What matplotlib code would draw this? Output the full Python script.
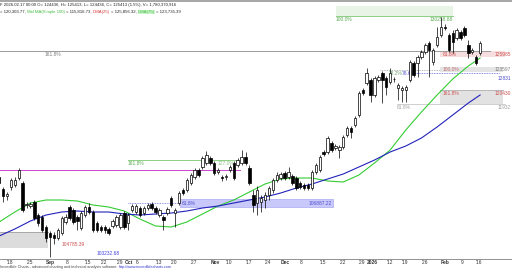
import matplotlib
matplotlib.use("Agg")
import matplotlib.pyplot as plt
from matplotlib.patches import Rectangle
import numpy as np
import pandas as pd

# ---------------- data ----------------
holidays = ["2025-09-15", "2025-09-23", "2025-10-13", "2025-11-03", "2025-11-24",
            "2025-12-31", "2026-01-01", "2026-01-02", "2026-01-12", "2026-02-11"]
dates = [d for d in pd.bdate_range("2025-08-14", "2026-02-17")
         if d.strftime("%Y-%m-%d") not in holidays]

opens = [110147, 108639, 107759, 108890, 109141, 110021, 109393, 106627, 106502, 107005,
         105370, 105119, 103862, 103108, 102856, 102479, 103108, 104491, 106376, 105999,
         105119, 103736, 105370, 106376, 105748, 104365, 103862, 103862, 103611, 103988,
         104113, 103862, 105622, 104365, 105999, 105748, 106250, 105622, 106250, 106753,
         106250, 105370, 105119, 105622, 107507, 105622, 106879, 108513, 108513, 109393,
         110147, 111027, 111404, 111907, 112535, 111907, 110776, 110147, 110147, 111027,
         111907, 111655, 111907, 112661, 111278, 107884, 106879, 107005, 107256, 107884,
         108513, 109770, 110021, 110650, 110147, 110273, 110021, 109393, 109141, 109141,
         108764, 110776, 111027, 113290, 113290, 114421, 113792, 113541, 113918, 115426,
         116306, 116683, 117940, 121083, 121963, 122340, 120454, 122340, 123220, 122591,
         122089, 122466, 121334, 121083, 121083, 122340, 124477, 124477, 125231, 125860,
         126991, 124603, 126739, 127996, 129002, 127996, 128248, 127619, 128374, 128876,
         126739, 125860, 125231, 125734]
highs = [110524, 108890, 108262, 110021, 110147, 111278, 109644, 107005, 107005, 107256,
         105622, 105370, 104113, 103359, 103234, 103736, 105245, 105496, 106627, 106250,
         105370, 105873, 106627, 106879, 105999, 104616, 104113, 104113, 103862, 104868,
         105370, 105622, 105873, 105622, 106753, 106753, 106502, 106502, 106879, 107005,
         106502, 106250, 105370, 106376, 107759, 106250, 108387, 108764, 110021, 110650,
         111278, 111278, 112787, 113415, 112787, 112158, 111278, 110398, 110524, 111655,
         112158, 112535, 113541, 113290, 111655, 108513, 109016, 107884, 108262, 109016,
         110021, 110776, 110776, 110901, 111404, 110524, 110273, 109644, 109393, 109393,
         111027, 111907, 112912, 113541, 115301, 114672, 114295, 114169, 115426, 116558,
         116558, 117815, 120957, 121334, 123848, 122591, 122843, 122968, 123471, 122843,
         123848, 122717, 121963, 121586, 121711, 124854, 124728, 125482, 126111, 126991,
         127242, 126362, 129002, 130259, 129379, 128248, 128625, 128876, 128625, 129128,
         127368, 126362, 125482, 127242]
lows = [109016, 107005, 107256, 108513, 108890, 109770, 105748, 106250, 106250, 104742,
        103988, 103234, 101977, 100091, 101725, 102228, 102856, 104239, 104742, 104239,
        103485, 103485, 105119, 105496, 103234, 103234, 103234, 103108, 102856, 103736,
        103862, 103611, 103611, 103485, 105748, 105496, 105119, 105370, 105999, 105999,
        105496, 105119, 103485, 105370, 106376, 103862, 106627, 107884, 108262, 109141,
        109896, 110147, 111153, 111655, 111655, 110398, 110524, 109644, 109770, 110776,
        109770, 111404, 111655, 111655, 109141, 105748, 105370, 105748, 106250, 107256,
        108136, 109519, 109770, 109770, 109896, 109141, 108513, 108639, 108513, 108513,
        108513, 110524, 110776, 112787, 113038, 113290, 113541, 112535, 113667, 115175,
        115049, 116432, 117689, 120454, 121711, 119575, 120203, 122089, 119449, 120454,
        121837, 122089, 119826, 119575, 119575, 122089, 122717, 122717, 124980, 125608,
        122717, 124225, 126488, 127745, 128625, 125860, 125734, 127368, 127368, 127745,
        125105, 125608, 124225, 125482]
closes = [109393, 107759, 108010, 109770, 109770, 111027, 105999, 106753, 106753, 104993,
          104365, 103485, 102479, 102605, 102479, 103485, 104993, 105119, 104993, 104491,
          104616, 105622, 106376, 105748, 103485, 103485, 103485, 103485, 103108, 104616,
          105119, 105370, 103862, 105370, 106502, 106502, 105370, 106250, 106627, 106250,
          105748, 105999, 104742, 106125, 106627, 105999, 108136, 108136, 109770, 110398,
          111027, 110398, 112535, 112912, 111907, 110650, 111027, 110021, 110273, 111404,
          110021, 112284, 112661, 111907, 109393, 106627, 108513, 107507, 107884, 108764,
          109770, 110398, 110524, 110021, 110776, 109393, 108764, 108890, 108764, 108764,
          110776, 111655, 112661, 113038, 115049, 113541, 114044, 113918, 115175, 116306,
          115804, 117563, 120706, 120706, 123220, 120454, 122591, 122717, 122340, 121460,
          123220, 122500, 121711, 121334, 121460, 124603, 122968, 125231, 125860, 126739,
          126111, 126111, 127745, 129002, 128876, 126111, 127117, 128625, 127619, 127996,
          125734, 126111, 124477, 126991]

ma_dates = ["2025-08-14", "2025-08-20", "2025-08-26", "2025-09-01", "2025-09-05", "2025-09-11",
            "2025-09-18", "2025-09-25", "2025-10-01", "2025-10-07", "2025-10-14", "2025-10-20",
            "2025-10-24", "2025-10-30", "2025-11-06", "2025-11-12", "2025-11-18", "2025-11-25",
            "2025-12-01", "2025-12-05", "2025-12-11", "2025-12-17", "2025-12-23", "2025-12-29",
            "2026-01-07", "2026-01-14", "2026-01-20", "2026-01-26", "2026-01-30", "2026-02-05",
            "2026-02-12", "2026-02-17"]
ma_fast = [104491, 105748, 106879, 107256, 107256, 107130, 106627, 106376, 105873, 104868,
           103988, 103862, 104491, 105496, 106502, 107256, 108262, 109267, 109896, 110021,
           110021, 109644, 109519, 110398, 111907, 113541, 116055, 118318, 120454, 122466,
           124100, 125105]
ma_slow = [102731, 103611, 104616, 105370, 105748, 105873, 105748, 105748, 105496, 105370,
           105496, 105622, 105873, 106250, 106502, 106879, 107256, 107633, 108136, 108764,
           109267, 109896, 110524, 111404, 112284, 113290, 114044, 115049, 116432, 117940,
           119449, 120454]

week_ticks = ["2025-08-18", "2025-08-25", "2025-09-01", "2025-09-08", "2025-09-16", "2025-09-22",
              "2025-09-29", "2025-10-01", "2025-10-06", "2025-10-14", "2025-10-20", "2025-10-27",
              "2025-11-04", "2025-11-10", "2025-11-17", "2025-11-25", "2025-12-01", "2025-12-08",
              "2025-12-15", "2025-12-22", "2025-12-29", "2026-01-05", "2026-01-13", "2026-01-19",
              "2026-01-26", "2026-02-02", "2026-02-09", "2026-02-16"]
week_labels = ["'18", "'25", "Sep", "'8", "'15", "'22", "'29", "Oct", "'6", "'13", "'20", "'27",
               "Nov", "'10", "'17", "'24", "Dec", "'8", "'15", "'22", "'29", "2026", "'12", "'19",
               "'26", "Feb", "'9", "'16"]

# ---------------- figure ----------------
FAM = "Liberation Sans"
plt.rcParams["font.family"] = [FAM, "DejaVu Sans"]
W, H = 512, 270
fig = plt.figure(figsize=(W / 100, H / 100), dpi=100)
fig.patch.set_facecolor("white")
ax = fig.add_axes([0, 11 / H, 1, 257 / H])
XL = (0.21, 131.16)
YL = (99840, 132145)
ax.set_xlim(*XL)
ax.set_ylim(*YL)
for s in ["top", "left", "right"]:
    ax.spines[s].set_visible(False)
ax.spines["bottom"].set_color("#808080")
ax.spines["bottom"].set_linewidth(0.6)
ax.set_yticks([])

def px(xp):
    return XL[0] + (xp / W) * (XL[1] - XL[0])

idx = {d.strftime("%Y-%m-%d"): k for k, d in enumerate(dates)}
x = np.arange(len(dates))
o = np.array(opens); h = np.array(highs); l = np.array(lows); c = np.array(closes)

FS = 3.5
RX = px(511)
# ----- annotation boxes / fib lines (behind candles) -----
fib_top = 130380
ax.add_patch(Rectangle((px(336), fib_top), px(453) - px(336), 1300, facecolor="#e8f5e6",
                       edgecolor="none", zorder=0))
ax.plot([px(336), px(453)], [fib_top, fib_top], color="#8ccf84", lw=0.7, zorder=1)
ax.text(px(336), fib_top - 120, "100.0%", color="#5aaa50", fontsize=FS, va="top", ha="left")
ax.text(px(453), fib_top - 120, "130258.88", color="#5aaa50", fontsize=FS, va="top", ha="right")

lvl_grey = 125985
ax.plot([px(0), px(490)], [lvl_grey, lvl_grey], color="#9a9a9a", lw=0.7, zorder=1)
ax.text(px(45), lvl_grey - 80, "161.8%", color="#808080", fontsize=FS, va="top")

ax.add_patch(Rectangle((px(440), 125231), px(505) - px(440), lvl_grey - 125231,
                       facecolor="#f6dede", edgecolor="none", zorder=0))
ax.text(px(443), lvl_grey - 80, "61.8%", color="#d05050", fontsize=FS, va="top")
ax.text(RX, lvl_grey - 80, "125985", color="#d05050", fontsize=FS, va="top", ha="right")

ax.add_patch(Rectangle((px(440), 123346), px(503) - px(440), 123974 - 123346,
                       facecolor="#e4e4e4", edgecolor="none", zorder=0))
ax.plot([px(380), px(440)], [123597, 123597], color="#a0a0a0", lw=0.6, ls=(0, (1, 1)), zorder=1)
ax.text(px(443), 123950, "100.0%", color="#c07070", fontsize=FS, va="top")
ax.text(RX, 123950, "123597", color="#808080", fontsize=FS, va="top", ha="right")
ax.plot([px(410), px(500)], [123220, 123220], color="#6666dd", lw=0.6, ls=(0, (1, 1)), zorder=1)
ax.text(px(389), 123220, "38.2%", color="#70a070", fontsize=FS, va="center")
ax.text(px(402), 123220, "78.6%", color="#5050d0", fontsize=FS, va="center")
ax.text(RX, 122900, "12831", color="#5050d0", fontsize=FS, va="top", ha="right")

ax.add_patch(Rectangle((px(440), 119323), px(503) - px(440), 121083 - 119323,
                       facecolor="#e2e2e2", edgecolor="none", zorder=0))
ax.plot([px(440), px(503)], [121083, 121083], color="#b0b0b0", lw=0.6, zorder=1)
ax.text(px(443), 121000, "161.8%", color="#d05050", fontsize=FS, va="top")
ax.text(RX, 121000, "120430", color="#d05050", fontsize=FS, va="top", ha="right")
ax.plot([px(397), px(505)], [119323, 119323], color="#c8c8c8", lw=0.6, zorder=1)
ax.text(px(397), 119250, "61.8%", color="#a0a0a0", fontsize=FS, va="top")
ax.text(RX, 119250, "11932", color="#a0a0a0", fontsize=FS, va="top", ha="right")

lvl_mag = 111027
ax.plot([px(0), px(240)], [lvl_mag, lvl_mag], color="#cc44cc", lw=0.7, zorder=1)
lvl_green = 112284
ax.plot([px(128), px(240)], [lvl_green, lvl_green], color="#8ccf84", lw=0.7, zorder=1)
ax.text(px(128), lvl_green - 80, "161.8%", color="#5aaa50", fontsize=FS, va="top")
ax.text(px(218), lvl_green - 80, "127.0%", color="#8cbf84", fontsize=FS, va="top")

ax.add_patch(Rectangle((px(180), 106376), px(333) - px(180), 107382 - 106376,
                       facecolor="#c8c8fa", edgecolor="#9a9af0", lw=0.4, zorder=0))
ax.plot([px(128), px(180)], [106879, 106879], color="#7070e0", lw=0.6, ls=(0, (1, 1)), zorder=1)
ax.text(px(182), 106879, "61.8%", color="#5050d0", fontsize=FS, va="center")
ax.text(px(332), 106879, "106887.22", color="#5050d0", fontsize=FS, va="center", ha="right")

ax.add_patch(Rectangle((px(-2), 101222), px(48) - px(-2), 103234 - 101222,
                       facecolor="#dcdcdc", edgecolor="none", zorder=0))
ax.plot([px(0), px(48)], [103234, 103234], color="#a0a0a0", lw=0.6, zorder=1)
ax.text(px(62), 101650, "104785.39", color="#d05050", fontsize=FS, va="center")
ax.text(px(97), 100520, "103232.68", color="#4040e0", fontsize=FS, va="center")

# ----- moving averages -----
mx = [idx[d] for d in ma_dates]
ax.plot(mx, ma_fast, color="#33cc33", lw=0.8, zorder=3)
ax.plot(mx, ma_slow, color="#2222bb", lw=0.8, zorder=3)

# ----- candles -----
up = c >= o
ax.vlines(x, l, h, color="black", lw=0.5, zorder=4)
bw = 0.62
bot = np.minimum(o, c)
ht = np.maximum(np.abs(c - o), 60)
ax.bar(x[up], ht[up], bottom=bot[up], width=bw, facecolor="white", edgecolor="black",
       linewidth=0.5, zorder=5)
ax.bar(x[~up], ht[~up], bottom=bot[~up], width=bw, facecolor="black", edgecolor="black",
       linewidth=0.5, zorder=5)

# ----- x axis -----
tx = [idx[d] for d in week_ticks]
ax.set_xticks(tx)
ax.set_xticklabels(week_labels)
ax.tick_params(axis="x", length=0, pad=0.6, labelsize=FS, labelcolor="#333333")
for t, lab in zip(ax.get_xticklabels(), week_labels):
    t.set_ha("left")
    if not lab.startswith("'"):
        t.set_fontweight("bold")

# ----- header / footer -----
fig.patches.append(Rectangle((0, 1 - 2 / H), 1, 2 / H, transform=fig.transFigure,
                             facecolor="#a8a8a8", edgecolor="none"))
fig.canvas.draw()
R = fig.canvas.get_renderer()

def seq_text(segments, y, fs, gap=1.2):
    xc = 0.0
    for s, col, hl in segments:
        kw = {}
        if hl:
            kw["bbox"] = dict(facecolor=hl, edgecolor="none", pad=0.2)
        t = fig.text(xc / W, y, s, fontsize=fs, color=col, va="center", ha="left", **kw)
        xc += t.get_window_extent(renderer=R).width + gap

HFS = 3.1
seq_text([("F 2026.02.17 00:00 O= 124436, H= 125413, L= 124436, C= 125413 (1.5%), V= 1,780,370,916",
           "#222222", None)], 1 - 5 / H, HFS)
seq_text([("= 120,303.77,", "#222222", None),
          ("Mid MA(Simple 100)", "#44bb44", None),
          ("= 115,816.73,", "#222222", None),
          ("DMA(25)", "#dd3333", None),
          ("= 125,856.32,", "#222222", None),
          ("DMA(75)", "#44bb44", "#ccf5cc"),
          ("= 123,735.39", "#222222", None)], 1 - 12 / H, HFS)
seq_text([("Incredible Charts - advanced charting and technical analysis software:", "#444444", None),
          ("http://www.incrediblecharts.com", "#3333cc", None)], 3 / H, 2.7)

fig.savefig("out.png", dpi=100)
